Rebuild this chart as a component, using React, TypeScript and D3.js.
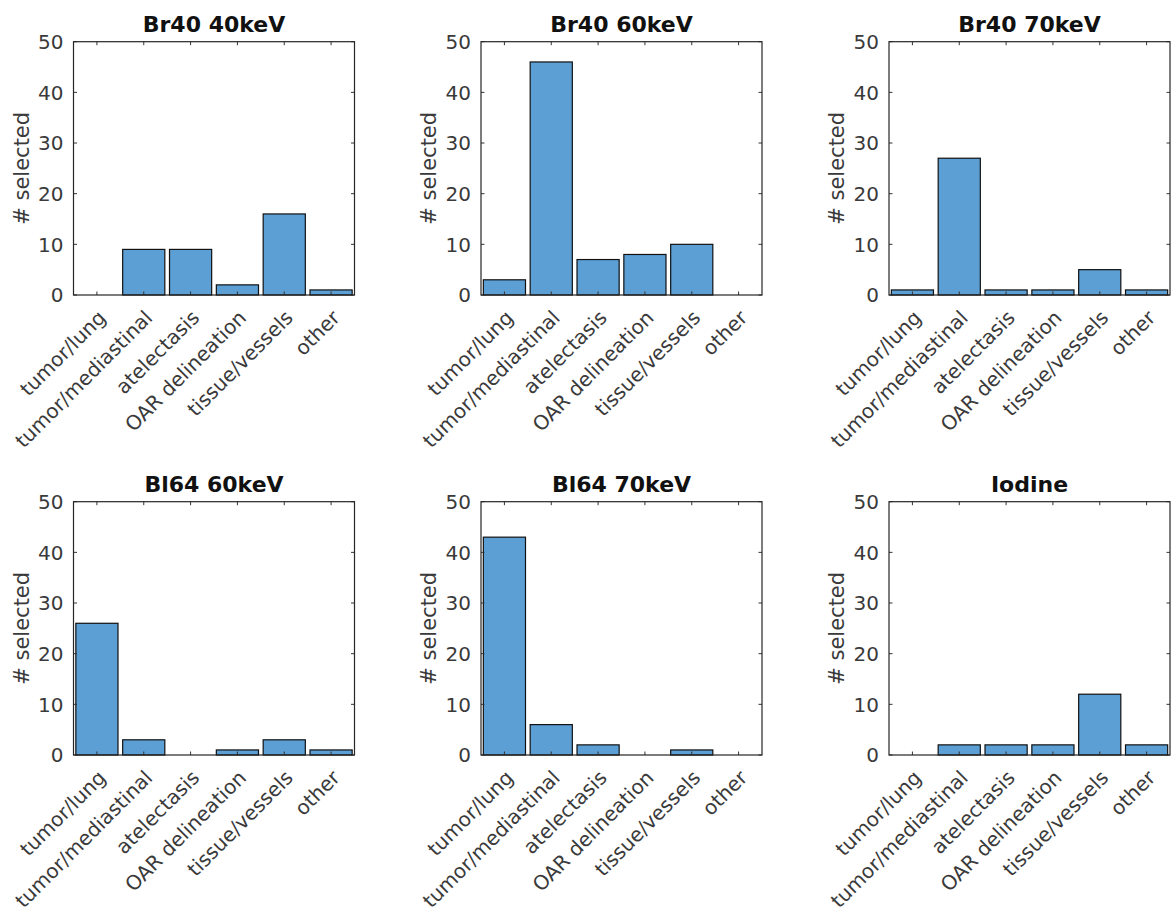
import React, { useEffect, useRef } from "react";
import * as d3 from "d3";

const categories = [
  "tumor/lung",
  "tumor/mediastinal",
  "atelectasis",
  "OAR delineation",
  "tissue/vessels",
  "other",
];

const titles = ["Br40 40keV", "Br40 60keV", "Br40 70keV", "Bl64 60keV", "Bl64 70keV", "Iodine"];

const br40_40 = [0, 9, 9, 2, 16, 1];
const br40_60 = [3, 46, 7, 8, 10, 0];
const br40_70 = [1, 27, 1, 1, 5, 1];
const bl64_60 = [26, 3, 0, 1, 3, 1];
const bl64_70 = [43, 6, 2, 0, 1, 0];
const iodine = [0, 2, 2, 2, 12, 2];

const seriesList = [br40_40, br40_60, br40_70, bl64_60, bl64_70, iodine];

const yTicks = [0, 10, 20, 30, 40, 50];
const yLabel = "# selected";

const W = 1172;
const H = 917;

const App = () => {
  const ref = useRef<SVGSVGElement>(null);

  useEffect(() => {
    const svg = d3.select(ref.current);
    svg.selectAll("*").remove();

    const colLeft = [73.5, 481, 889];
    const rowTop = [41.7, 501.7];
    const pw = 281;
    const ph = 253.3;
    const font = "DejaVu Sans, sans-serif";
    const textColor = "#3a3a3a";
    const tickLen = 3.5;

    seriesList.forEach((values, i) => {
      const col = i % 3;
      const row = Math.floor(i / 3);
      const g = svg.append("g")
        .attr("transform", `translate(${colLeft[col]},${rowTop[row]})`);

      const x = d3.scaleBand<string>()
        .domain(categories)
        .range([0, pw])
        .paddingInner(0.1)
        .paddingOuter(0.05);
      const y = d3.scaleLinear().domain([0, 50]).range([ph, 0]);

      // bars
      g.selectAll("rect.bar")
        .data(values)
        .join("rect")
        .attr("class", "bar")
        .attr("x", (_, j) => x(categories[j])!)
        .attr("width", x.bandwidth())
        .attr("y", d => y(d))
        .attr("height", d => ph - y(d))
        .attr("fill", "#5b9fd5")
        .attr("stroke", "#111")
        .attr("stroke-width", 1.2)
        .attr("display", d => (d > 0 ? null : "none"));

      // ticks (inward, all four sides)
      const tg = g.append("g").attr("stroke", "#333").attr("stroke-width", 1);
      categories.forEach(c => {
        const cx = x(c)! + x.bandwidth() / 2;
        tg.append("line").attr("x1", cx).attr("x2", cx).attr("y1", ph).attr("y2", ph - tickLen);
        tg.append("line").attr("x1", cx).attr("x2", cx).attr("y1", 0).attr("y2", tickLen);
      });
      yTicks.forEach(t => {
        tg.append("line").attr("x1", 0).attr("x2", tickLen).attr("y1", y(t)).attr("y2", y(t));
        tg.append("line").attr("x1", pw).attr("x2", pw - tickLen).attr("y1", y(t)).attr("y2", y(t));
      });

      // box
      g.append("rect")
        .attr("width", pw)
        .attr("height", ph)
        .attr("fill", "none")
        .attr("stroke", "#262626")
        .attr("stroke-width", 1.2);

      // y tick labels
      g.selectAll("text.ytick")
        .data(yTicks)
        .join("text")
        .attr("class", "ytick")
        .attr("x", -10)
        .attr("y", d => y(d))
        .attr("dy", "0.36em")
        .attr("text-anchor", "end")
        .attr("font-family", font)
        .attr("font-size", 20)
        .attr("fill", textColor)
        .text(d => d);

      // x tick labels
      g.selectAll("text.xtick")
        .data(categories)
        .join("text")
        .attr("class", "xtick")
        .attr("transform", d => `translate(${x(d)! + x.bandwidth() / 2 + 5},${ph + 19}) rotate(-45)`)
        .attr("dy", "0.35em")
        .attr("text-anchor", "end")
        .attr("font-family", font)
        .attr("font-size", 20)
        .attr("fill", textColor)
        .text(d => d);

      // y label
      g.append("text")
        .attr("transform", `translate(-52,${ph / 2}) rotate(-90)`)
        .attr("text-anchor", "middle")
        .attr("dy", "0.35em")
        .attr("font-family", font)
        .attr("font-size", 21)
        .attr("fill", textColor)
        .text(yLabel);

      // title
      g.append("text")
        .attr("x", pw / 2)
        .attr("y", -10)
        .attr("text-anchor", "middle")
        .attr("font-family", font)
        .attr("font-size", 22)
        .attr("font-weight", "bold")
        .attr("fill", "#111")
        .text(titles[i]);
    });
  }, []);

  return (
    <svg
      ref={ref}
      width={W}
      height={H}
      style={{ position: "absolute", left: 0, top: 0, background: "#fff", display: "block" }}
    />
  );
};

export default App;
